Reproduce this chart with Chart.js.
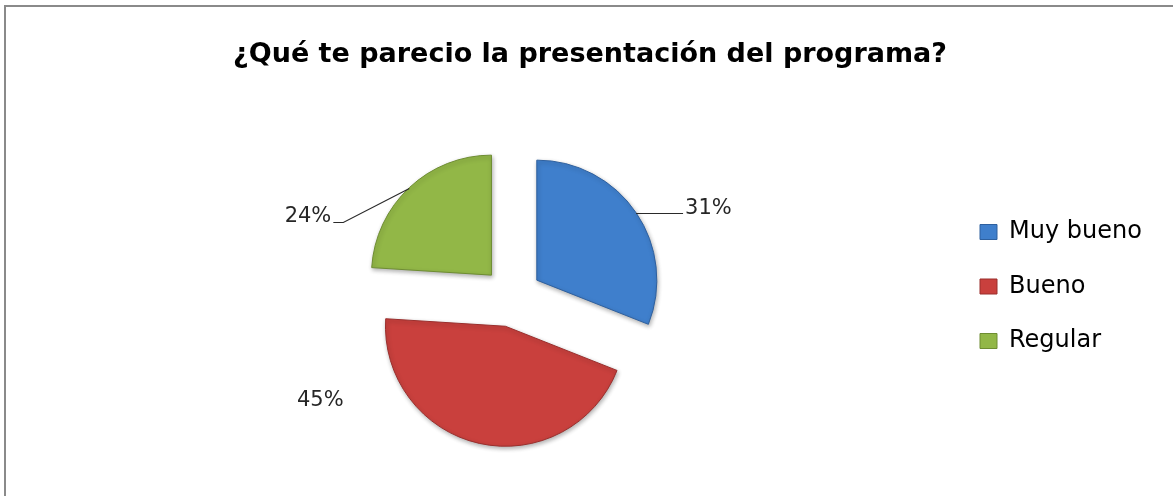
<!DOCTYPE html>
<html>
<head>
<meta charset="utf-8">
<script src="https://cdn.jsdelivr.net/npm/chart.js@4.4.1/dist/chart.umd.min.js"></script>
<style>
html,body{margin:0;padding:0;background:#fff;overflow:hidden}
#wrap{width:1173px;height:496px;position:relative}
canvas{display:block}
</style>
</head>
<body>
<div id="wrap"><canvas id="c" width="1173" height="496"></canvas></div>
<script>
// ---- data ----
const categories = ['Muy bueno', 'Bueno', 'Regular'];
const values = [31, 45, 24];
const chartTitle = '¿Qué te parecio la presentación del programa?';

// ---- style ----
const fillColors = ['#3F7FCC', '#C9403D', '#92B747'];
const edgeColors = ['#2E609F', '#9A2F2D', '#6E8D32'];
const FONT = '"DejaVu Sans", sans-serif';
const W = 1173, H = 496;
const EXPLODE = 30;
const PIE_RADIUS = 120;
const PIE_CX = 512, PIE_CY = 297;
const TITLE_SIZE = 27, TITLE_CY = 55, TITLE_CX = 590;
const LEGEND_FONT = 24, LEGEND_BOX_W = 17, LEGEND_BOX_H = 15, LEGEND_PAD = 30.5;
const LEGEND_ITEMS_LEFT = 980, LEGEND_FIRST_CY = 232;
const LABEL_FONT = 21;

// label placement relative to the slice's outer mid point
const labelLayout = [
  {line: [[47, 0]], text: [49, -5], align: 'left'},
  {line: null, text: [-159, -43], align: 'center'},
  {line: [[-66, 33.5], [-76, 33.5]], text: [-78, 28.5], align: 'right'}
];

// ---- layout computation ----
const mctx = document.createElement('canvas').getContext('2d');
mctx.font = LEGEND_FONT + 'px ' + FONT;
const maxTextW = Math.max(...categories.map(t => mctx.measureText(t).width));
const legendItemW = LEGEND_BOX_W + LEGEND_FONT / 2 + maxTextW;
const padRight = W - LEGEND_ITEMS_LEFT - legendItemW - 10;
const legendBoxLeft = LEGEND_ITEMS_LEFT - LEGEND_PAD;
const padLeft = 2 * PIE_CX - legendBoxLeft;
const areaTop = LEGEND_FIRST_CY - LEGEND_FONT / 2 - LEGEND_PAD;
const areaBottom = 2 * PIE_CY - areaTop;
const padBottom = H - areaBottom;
const titleLine = TITLE_SIZE * 1.2;
const titlePadTop = TITLE_CY - titleLine / 2;
const titlePadBottom = areaTop - titlePadTop - titleLine;

const total = values.reduce((a, b) => a + b, 0);

const framePlugin = {
  id: 'frame',
  beforeDraw(chart) {
    const ctx = chart.ctx;
    ctx.save();
    ctx.fillStyle = '#fff';
    ctx.fillRect(0, 0, W, H);
    ctx.strokeStyle = '#8a8a8a';
    ctx.lineWidth = 2;
    ctx.beginPath();
    ctx.moveTo(5, H);
    ctx.lineTo(5, 6);
    ctx.lineTo(W, 6);
    ctx.stroke();
    ctx.restore();
  }
};

const titleShiftPlugin = {
  id: 'titleShift',
  afterLayout(chart) {
    const tb = chart.titleBlock;
    if (tb) {
      const w = tb.right - tb.left;
      tb.left = TITLE_CX - w / 2;
      tb.right = tb.left + w;
    }
  }
};

const explodePlugin = {
  id: 'explode',
  beforeDatasetDraw(chart, args) {
    const ctx = chart.ctx;
    args.meta.data.forEach(arc => {
      const mid = (arc.startAngle + arc.endAngle) / 2;
      ctx.save();
      ctx.translate(Math.cos(mid) * EXPLODE, Math.sin(mid) * EXPLODE);
      ctx.shadowColor = 'rgba(0,0,0,0.3)';
      ctx.shadowBlur = 4;
      ctx.shadowOffsetX = 1;
      ctx.shadowOffsetY = 2;
      arc.draw(ctx);
      ctx.restore();
    });
    return false;
  }
};

const labelPlugin = {
  id: 'pctLabels',
  afterDatasetsDraw(chart) {
    const ctx = chart.ctx;
    const meta = chart.getDatasetMeta(0);
    meta.data.forEach((arc, i) => {
      const mid = (arc.startAngle + arc.endAngle) / 2;
      const r = arc.outerRadius + EXPLODE;
      const sx = arc.x + Math.cos(mid) * r;
      const sy = Math.round(arc.y + Math.sin(mid) * r) + 0.5;
      const lay = labelLayout[i];
      ctx.save();
      if (lay.line) {
        ctx.strokeStyle = '#2a2a2a';
        ctx.lineWidth = 1.2;
        ctx.beginPath();
        ctx.moveTo(sx, sy);
        lay.line.forEach(p => ctx.lineTo(sx + p[0], sy + Math.round(p[1])));
        ctx.stroke();
      }
      ctx.fillStyle = '#262626';
      ctx.font = LABEL_FONT + 'px ' + FONT;
      ctx.textAlign = lay.align;
      ctx.textBaseline = 'middle';
      const pct = Math.round(values[i] / total * 100) + '%';
      ctx.fillText(pct, sx + lay.text[0], sy + lay.text[1]);
      ctx.restore();
    });
  }
};

new Chart(document.getElementById('c'), {
  type: 'pie',
  data: {
    labels: categories,
    datasets: [{
      data: values,
      backgroundColor: fillColors,
      borderColor: edgeColors,
      borderWidth: 1,
      radius: PIE_RADIUS,
      clip: false
    }]
  },
  options: {
    responsive: false,
    animation: false,
    events: [],
    layout: {padding: {left: padLeft, right: padRight, top: 0, bottom: padBottom}},
    plugins: {
      title: {
        display: true,
        text: chartTitle,
        color: '#000',
        font: {family: FONT, size: TITLE_SIZE, weight: 'bold', lineHeight: 1.2},
        padding: {top: titlePadTop, bottom: titlePadBottom}
      },
      legend: {
        display: true,
        position: 'right',
        align: 'start',
        fullSize: false,
        labels: {
          color: '#000',
          font: {family: FONT, size: LEGEND_FONT},
          boxWidth: LEGEND_BOX_W,
          boxHeight: LEGEND_BOX_H,
          padding: LEGEND_PAD
        }
      },
      tooltip: {enabled: false}
    }
  },
  plugins: [framePlugin, titleShiftPlugin, explodePlugin, labelPlugin]
});
</script>
</body>
</html>
